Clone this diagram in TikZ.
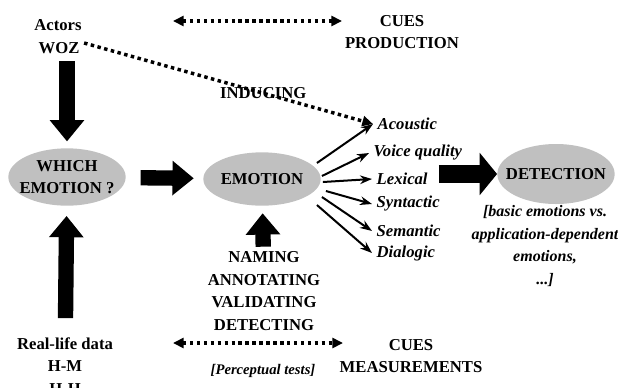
\documentclass[tikz,border=0pt]{standalone}
\usepackage{fontspec}
\setmainfont{Liberation Serif}
\usepackage{tikz}
\usetikzlibrary{arrows.meta,shapes.geometric}
\definecolor{ovalgray}{RGB}{192,192,192}

\begin{document}
\begin{tikzpicture}[x=0.75pt,y=-0.75pt,
  every node/.style={font=\bfseries\fontsize{12.5}{17}\selectfont,align=center},
  oval/.style={ellipse,fill=ovalgray,inner xsep=-9pt,inner ysep=-2pt,minimum width=88pt,minimum height=43pt},
  cue/.style={anchor=west,font=\bfseries\itshape\fontsize{12.5}{17}\selectfont},
  bigarrow/.style={line width=11.5pt,-{Triangle[length=16pt,width=25pt]}},
  thinarrow/.style={line width=1.5pt,-{Stealth[length=9pt,width=6.5pt]}},
  dotarrow/.style={line width=2.6pt,dash pattern=on 2.6pt off 2.6pt,-{Triangle[length=8pt,width=7.5pt]}},
  dotboth/.style={dotarrow,{Triangle[length=8pt,width=7.5pt]}-{Triangle[length=8pt,width=7.5pt]}}]
  \useasboundingbox (0,0) rectangle (618,387);
  \node (actors) at (58,25) {Actors};
  \node (woz) at (59,48) {WOZ};
  \node (which) [oval] at (67,177) {WHICH\\EMOTION ?};
  \node (emotion) [oval,minimum height=40pt] at (262,179) {EMOTION};
  \node (detection) [oval,minimum height=45pt] at (556,174) {DETECTION};
  \node (prod) at (402,32) {CUES\\PRODUCTION};
  \node (meas) at (411,356) {CUES\\MEASUREMENTS};
  \node (naming) at (264,291) {NAMING\\ANNOTATING\\VALIDATING\\DETECTING};
  \node (reallife) at (65,366) {Real-life data\\H-M\\H-H};
  \node (tests) at (263,371) [font=\bfseries\itshape\fontsize{11}{13}\selectfont] {[Perceptual tests]};
  \node (kinds) at (545,246) [font=\bfseries\itshape\fontsize{12}{17}\selectfont] {[basic emotions vs.\\application-dependent\\emotions,\\...]};
  \node (acoustic) [cue] at (373,124) {Acoustic};
  \node (voice) [cue] at (369,153) {Voice quality};
  \node (lexical) [cue] at (372,179) {Lexical};
  \node (syntactic) [cue] at (372,204) {Syntactic};
  \node (semantic) [cue] at (372,231) {Semantic};
  \node (dialogic) [cue] at (372,253) {Dialogic};
  \coordinate (topL) at (173,21);
  \coordinate (topR) at (342,21);
  \coordinate (botL) at (173,343);
  \coordinate (botR) at (343,343);

  \path (which.north |- woz.south) edge[bigarrow,shorten <=2pt,shorten >=5pt] (which.north)
    (reallife) edge[bigarrow,shorten <=11pt,shorten >=7.5pt] (which)
    (which) edge[bigarrow,shorten <=11pt,shorten >=7pt] (emotion)
    (naming) edge[bigarrow,shorten >=5.5pt] (emotion)
    (lexical.east |- detection) edge[bigarrow,line width=14pt,-{Triangle[length=13pt,width=31pt]},shorten <=5pt] (detection);
  \path ([shift={(-4,-16)}]emotion.east) edge[thinarrow] (acoustic.west)
    ([shift={(1,-3)}]emotion.east) edge[thinarrow] (voice.west)
    ([shift={(2,3)}]emotion.east) edge[thinarrow] (lexical.west)
    ([shift={(5,12)}]emotion.east) edge[thinarrow] (syntactic.west)
    ([shift={(1,18)}]emotion.east) edge[thinarrow] (semantic.west)
    ([shift={(-4,26)}]emotion.east) edge[thinarrow] (dialogic.west);
  \path ([shift={(0,-5)}]woz.east) edge[dotarrow] node[pos=0.62] {INDUCING} (acoustic.west)
    (topL) edge[dotboth] (topR)
    (botL) edge[dotboth] (botR);
\end{tikzpicture}
\end{document}
